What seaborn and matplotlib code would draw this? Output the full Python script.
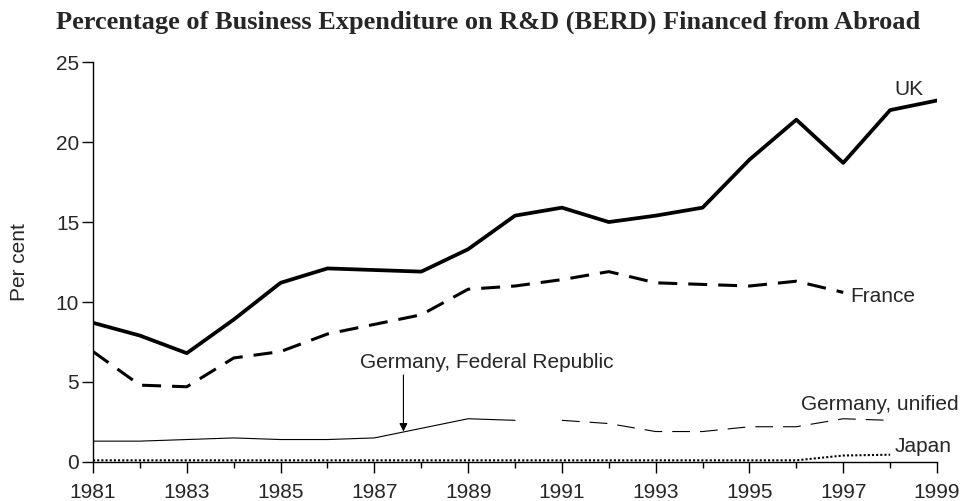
import numpy as np
import pandas as pd
import matplotlib
matplotlib.use("Agg")
import matplotlib.pyplot as plt
import seaborn as sns

# values (per cent of BERD financed from abroad)
years = list(range(1981, 2000))
uk = [8.7, 7.9, 6.8, 8.9, 11.2, 12.1, 12.0, 11.9, 13.3, 15.4,
      15.9, 15.0, 15.4, 15.9, 18.9, 21.4, 18.7, 22.0, 22.6]

france_years = list(range(1981, 1998))
france = [6.9, 4.8, 4.7, 6.5, 6.9, 8.0, 8.6, 9.2, 10.8, 11.0,
          11.4, 11.9, 11.2, 11.1, 11.0, 11.3, 10.6]

germany_fr_years = list(range(1981, 1991))
germany_fr = [1.3, 1.3, 1.4, 1.5, 1.4, 1.4, 1.5, 2.1, 2.7, 2.6]

germany_uni_years = list(range(1991, 1999))
germany_uni = [2.6, 2.4, 1.9, 1.9, 2.2, 2.2, 2.7, 2.6]

japan_years = list(range(1981, 1999))
japan = [0.1, 0.1, 0.1, 0.1, 0.1, 0.1, 0.1, 0.1, 0.1, 0.1,
         0.1, 0.1, 0.1, 0.1, 0.1, 0.1, 0.4, 0.45]

sns.set_style("ticks")
plt.rcParams['font.family'] = ['Liberation Sans', 'DejaVu Sans']

fig = plt.figure(figsize=(9.64, 5.01), dpi=100)
ax = fig.add_axes([0.0965, 0.078, 0.8755, 0.798])

sns.lineplot(x=years, y=uk, ax=ax, color='black', lw=2.7)
sns.lineplot(x=france_years, y=france, ax=ax, color='black', lw=2.2,
             linestyle=(0, (6.2, 3.6)))
sns.lineplot(x=germany_fr_years, y=germany_fr, ax=ax, color='black', lw=0.8)
sns.lineplot(x=germany_uni_years, y=germany_uni, ax=ax, color='black', lw=0.8,
             linestyle=(0, (16, 9)))
sns.lineplot(x=japan_years, y=japan, ax=ax, color='black', lw=1.5,
             linestyle=(0, (1, 1)))

ax.set_xlim(1981, 1999)
ax.set_ylim(0, 25)
ax.set_xticks(range(1981, 2000, 2))
ax.set_xticks(range(1982, 1999, 2), minor=True)
ax.set_yticks(range(0, 26, 5))
ax.tick_params(axis='both', which='major', direction='out', length=8,
               width=1, color='black', labelsize=15)
ax.tick_params(axis='x', which='minor', direction='out', length=4.5,
               width=1, color='black')
ax.tick_params(axis='x', which='major', pad=7)
ax.tick_params(axis='y', which='major', pad=2)
for s in ['top', 'right']:
    ax.spines[s].set_visible(False)
for s in ['left', 'bottom']:
    ax.spines[s].set_linewidth(1)
    ax.spines[s].set_color('black')
ax.set_ylabel('Per cent', fontsize=15)
ax.yaxis.label.set_va('center')
ax.yaxis.set_label_coords(-0.087, 0.5)
ax.set_xlabel('')

# series labels
lab = dict(fontsize=15, ha='left', va='baseline', clip_on=False)
ax.text(1998.1, 22.94, 'UK', **lab)
ax.text(1997.14, 10.0, 'France', **lab)
ax.text(1996.1, 3.25, 'Germany, unified', **lab)
ax.text(1998.1, 0.64, 'Japan', **lab)
ax.text(1986.69, 5.875, 'Germany, Federal Republic', **lab)
ax.annotate('', xy=(1987.62, 1.9), xytext=(1987.62, 5.44),
            arrowprops=dict(arrowstyle='-|>', color='black', lw=0.8,
                            shrinkA=0, shrinkB=0, mutation_scale=12))

fig.text(488.5 / 964, 1 - 28.3 / 501,
         'Percentage of Business Expenditure on R&D (BERD) Financed from Abroad',
         family=['Liberation Serif', 'DejaVu Serif'], weight='bold',
         fontsize=19, ha='center', va='baseline')

fig.savefig('out.png', dpi=100)
